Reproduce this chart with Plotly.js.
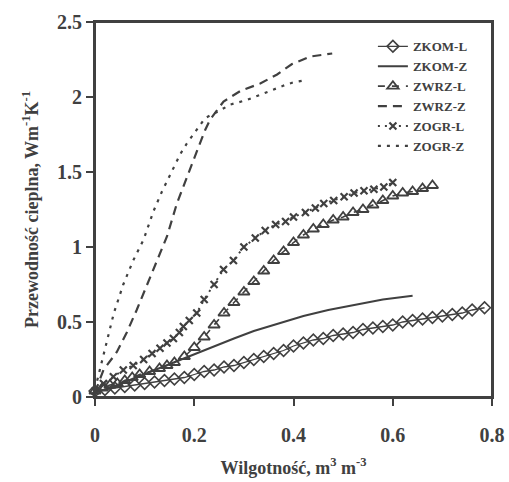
<!DOCTYPE html>
<html>
<head>
<meta charset="utf-8">
<script src="https://cdn.plot.ly/plotly-3.0.1.min.js"></script>
<style>
html,body{margin:0;padding:0;background:#fff;}
#wrap{position:relative;width:509px;height:482px;}
#chart{width:509px;height:482px;}
#frame{position:absolute;left:94px;top:21px;width:399px;height:377px;box-sizing:border-box;border:2px solid #404040;pointer-events:none;z-index:10;}
</style>
</head>
<body>
<div id="wrap"><div id="chart"></div><div id="frame"></div></div>
<script>
// ZKOM-L (diamonds, solid line)
const zkomL_x = [0, 0.02, 0.04, 0.06, 0.08, 0.10, 0.12, 0.14, 0.16, 0.18, 0.20, 0.22, 0.24, 0.26, 0.28, 0.30, 0.32, 0.34, 0.36, 0.38, 0.40, 0.42, 0.44, 0.46, 0.48, 0.50, 0.52, 0.54, 0.56, 0.58, 0.60, 0.62, 0.64, 0.66, 0.68, 0.70, 0.72, 0.74, 0.76, 0.785];
const zkomL_y = [0.04, 0.05, 0.06, 0.07, 0.08, 0.09, 0.10, 0.11, 0.12, 0.13, 0.15, 0.17, 0.18, 0.20, 0.21, 0.23, 0.25, 0.27, 0.29, 0.31, 0.34, 0.36, 0.38, 0.39, 0.41, 0.42, 0.43, 0.45, 0.46, 0.47, 0.48, 0.50, 0.51, 0.52, 0.53, 0.54, 0.55, 0.56, 0.58, 0.595];
// ZKOM-Z (solid line)
const zkomZ_x = [0, 0.03, 0.06, 0.09, 0.12, 0.15, 0.18, 0.21, 0.24, 0.28, 0.32, 0.37, 0.42, 0.47, 0.52, 0.58, 0.64];
const zkomZ_y = [0.03, 0.06, 0.10, 0.14, 0.18, 0.22, 0.26, 0.30, 0.34, 0.39, 0.44, 0.49, 0.54, 0.58, 0.61, 0.65, 0.675];
// ZWRZ-L (triangles, dashed line)
const zwrzL_x = [0, 0.015, 0.03, 0.045, 0.06, 0.075, 0.09, 0.11, 0.13, 0.145, 0.16, 0.18, 0.20, 0.22, 0.24, 0.26, 0.28, 0.30, 0.32, 0.34, 0.36, 0.38, 0.40, 0.42, 0.44, 0.46, 0.48, 0.50, 0.52, 0.54, 0.56, 0.58, 0.60, 0.62, 0.64, 0.66, 0.68];
const zwrzL_y = [0.04, 0.06, 0.08, 0.09, 0.11, 0.13, 0.15, 0.17, 0.19, 0.21, 0.23, 0.27, 0.33, 0.40, 0.48, 0.56, 0.63, 0.70, 0.77, 0.84, 0.91, 0.97, 1.03, 1.08, 1.12, 1.15, 1.18, 1.20, 1.23, 1.25, 1.28, 1.31, 1.34, 1.36, 1.37, 1.39, 1.41];
// ZWRZ-Z (long dashes)
const zwrzZ_x = [0, 0.017, 0.044, 0.064, 0.084, 0.101, 0.125, 0.145, 0.165, 0.182, 0.195, 0.209, 0.222, 0.232, 0.259, 0.293, 0.333, 0.367, 0.397, 0.434, 0.478];
const zwrzZ_y = [0.03, 0.18, 0.30, 0.43, 0.58, 0.72, 0.91, 1.07, 1.29, 1.44, 1.56, 1.67, 1.78, 1.85, 1.97, 2.04, 2.09, 2.15, 2.22, 2.27, 2.29];
// ZOGR-L (x markers, dotted line)
const zogrL_x = [0, 0.017, 0.037, 0.057, 0.077, 0.098, 0.115, 0.131, 0.145, 0.158, 0.17, 0.178, 0.19, 0.205, 0.22, 0.24, 0.259, 0.279, 0.30, 0.323, 0.343, 0.364, 0.384, 0.40, 0.424, 0.444, 0.461, 0.481, 0.502, 0.522, 0.542, 0.562, 0.582, 0.60];
const zogrL_y = [0.04, 0.09, 0.135, 0.18, 0.21, 0.25, 0.29, 0.325, 0.36, 0.39, 0.43, 0.47, 0.51, 0.56, 0.65, 0.75, 0.85, 0.91, 1.00, 1.06, 1.11, 1.15, 1.17, 1.20, 1.23, 1.26, 1.29, 1.31, 1.335, 1.36, 1.375, 1.385, 1.40, 1.43];
// ZOGR-Z (short dashes)
const zogrZ_x = [0, 0.013, 0.025, 0.038, 0.057, 0.077, 0.098, 0.118, 0.135, 0.152, 0.172, 0.185, 0.205, 0.222, 0.246, 0.273, 0.306, 0.347, 0.38, 0.40, 0.421];
const zogrZ_y = [0.05, 0.22, 0.38, 0.56, 0.75, 0.91, 1.05, 1.24, 1.37, 1.49, 1.62, 1.69, 1.78, 1.86, 1.90, 1.95, 1.98, 2.035, 2.076, 2.098, 2.11];

const seriesNames = ['ZKOM-L', 'ZKOM-Z', 'ZWRZ-L', 'ZWRZ-Z', 'ZOGR-L', 'ZOGR-Z'];
const xTicks = [0, 0.2, 0.4, 0.6, 0.8];
const xTickText = ['0', '0.2', '0.4', '0.6', '0.8'];
const yTicks = [0, 0.5, 1, 1.5, 2, 2.5];
const yTickText = ['0', '0.5', '1', '1.5', '2', '2.5'];

const C = '#404040';
const FONT = 'Liberation Serif, Times New Roman, serif';
const bold = s => '<b>' + s + '</b>';

const traces = [
  {name: bold(seriesNames[0]), x: zkomL_x, y: zkomL_y, mode: 'lines+markers',
   line: {color: C, width: 1.3},
   marker: {symbol: 'diamond-open', size: 9, color: C, line: {color: C, width: 1.6}}},
  {name: bold(seriesNames[1]), x: zkomZ_x, y: zkomZ_y, mode: 'lines',
   line: {color: C, width: 2}},
  {name: bold(seriesNames[2]), x: zwrzL_x, y: zwrzL_y, mode: 'lines+markers',
   line: {color: C, width: 1.6, dash: '7px,7px'},
   marker: {symbol: 'triangle-up-open', size: 10, color: C, line: {color: C, width: 1.8}}},
  {name: bold(seriesNames[3]), x: zwrzZ_x, y: zwrzZ_y, mode: 'lines',
   line: {color: C, width: 2.2, dash: '9px,6px'}},
  {name: bold(seriesNames[4]), x: zogrL_x, y: zogrL_y, mode: 'lines+markers',
   line: {color: C, width: 2, dash: '2px,5px'},
   marker: {symbol: 'x-thin-open', size: 7, color: C, line: {color: C, width: 2.2}}},
  {name: bold(seriesNames[5]), x: zogrZ_x, y: zogrZ_y, mode: 'lines',
   line: {color: C, width: 2.2, dash: '3px,6px'}}
];
traces.forEach(t => { t.cliponaxis = false; });

const layout = {
  width: 509, height: 482,
  margin: {l: 95, r: 17, t: 22, b: 85},
  paper_bgcolor: '#fff', plot_bgcolor: '#fff',
  font: {family: FONT, color: C},
  showlegend: true,
  legend: {
    x: 0.70, y: 0.975, xanchor: 'left', yanchor: 'top',
    bgcolor: 'rgba(0,0,0,0)', borderwidth: 0,
    font: {family: FONT, size: 13, color: C},
    tracegroupgap: 0
  },
  xaxis: {
    range: [0, 0.8], tickmode: 'array', tickvals: xTicks, ticktext: xTickText.map(bold),
    showgrid: false, zeroline: false, showline: true, mirror: true,
    linecolor: C, linewidth: 2, ticks: 'outside', ticklen: 7, tickwidth: 2, tickcolor: C,
    ticklabelstandoff: 12,
    tickfont: {family: FONT, size: 20, color: C},
    title: {text: bold('Wilgotność, m<sup>3</sup> m<sup>-3</sup>'), standoff: 16,
            font: {family: FONT, size: 18, color: C}}
  },
  yaxis: {
    range: [0, 2.5], tickmode: 'array', tickvals: yTicks, ticktext: yTickText.map(bold),
    showgrid: false, zeroline: false, showline: true, mirror: true,
    linecolor: C, linewidth: 2, ticks: 'outside', ticklen: 7, tickwidth: 2, tickcolor: C,
    tickfont: {family: FONT, size: 20, color: C},
    title: {text: bold('Przewodność cieplna, Wm<sup>-1</sup>K<sup>-1</sup>'), standoff: 14,
            font: {family: FONT, size: 18, color: C}}
  }
};

Plotly.newPlot('chart', traces, layout, {displayModeBar: false});
</script>
</body>
</html>
